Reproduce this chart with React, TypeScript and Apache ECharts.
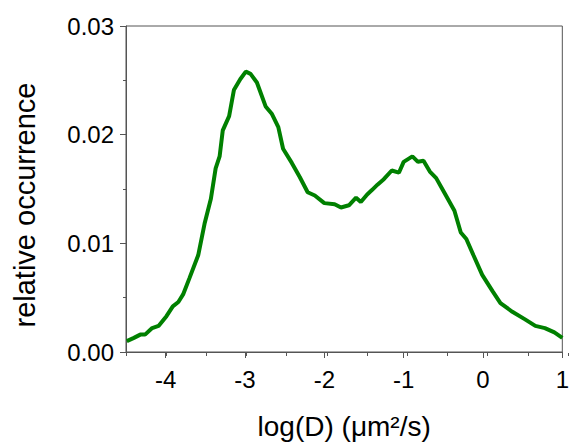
import React, { useEffect, useRef } from "react";
import * as echarts from "echarts";

const logD = [
  -4.49, -4.4, -4.32, -4.26, -4.17, -4.09, -3.99, -3.91, -3.84, -3.78, -3.7, -3.59,
  -3.51, -3.43, -3.37, -3.32, -3.28, -3.2, -3.14, -3.06, -2.99, -2.93, -2.85, -2.74,
  -2.66, -2.58, -2.52, -2.41, -2.31, -2.21, -2.12, -2.0, -1.87, -1.79, -1.69, -1.6,
  -1.54, -1.46, -1.4, -1.33, -1.25, -1.15, -1.06, -1.0, -0.89, -0.82, -0.75, -0.67,
  -0.59, -0.49, -0.36, -0.28, -0.21, -0.12, -0.01, 0.12, 0.22, 0.37, 0.53, 0.66,
  0.78, 0.9, 1.0,
];
const occurrence = [
  0.001, 0.0013, 0.0016, 0.0016, 0.0022, 0.0024, 0.0033, 0.0042, 0.0046, 0.0053, 0.0068, 0.0089,
  0.0118, 0.0141, 0.0169, 0.018, 0.0204, 0.0217, 0.0241, 0.0251, 0.0258, 0.0256, 0.0248, 0.0226,
  0.0219, 0.0207, 0.0187, 0.0174, 0.0161, 0.0147, 0.0144, 0.0137, 0.0136, 0.0133, 0.0135, 0.0142,
  0.0138, 0.0145, 0.0149, 0.0154, 0.0159, 0.0167, 0.0165, 0.0175, 0.018, 0.0175, 0.0176, 0.0166,
  0.016, 0.0147, 0.013, 0.011, 0.0104, 0.0089, 0.0071, 0.0056, 0.0045, 0.0037, 0.003, 0.0024,
  0.0022, 0.0018, 0.0013,
];
const xMajorTicks = [-4, -3, -2, -1, 0, 1];
const xTitle = "log(D) (μm²/s)";
const yTitle = "relative occurrence";

const FONT = "'Liberation Sans', Arial, sans-serif";
const AXIS = "#555";

export default function App() {
  const ref = useRef<HTMLDivElement>(null);
  useEffect(() => {
    if (!ref.current) return;
    const chart = echarts.init(ref.current, null, { renderer: "svg" });
    const gridPos = { left: 126, right: 4, top: 26, bottom: 92 };
    chart.setOption({
      animation: false,
      backgroundColor: "#fff",
      textStyle: { fontFamily: FONT },
      grid: [
        { ...gridPos, show: true, borderColor: AXIS, borderWidth: 1, backgroundColor: "transparent" },
        { ...gridPos },
      ],
      xAxis: [
        {
          type: "value",
          gridIndex: 0,
          min: -4.5,
          max: 1,
          name: xTitle,
          nameLocation: "middle",
          nameGap: 60,
          nameTextStyle: { fontSize: 28, color: "#000", fontFamily: FONT },
          axisLine: { show: true, onZero: false, lineStyle: { color: AXIS, width: 1 } },
          axisTick: { show: true, customValues: xMajorTicks, length: 6, lineStyle: { color: AXIS } },
          axisLabel: { customValues: xMajorTicks, fontSize: 24, color: "#000", margin: 15, fontFamily: FONT },
          splitLine: { show: false },
        },
        {
          type: "value",
          gridIndex: 1,
          min: -4.5,
          max: 1,
          interval: 0.5,
          axisLine: { show: false, onZero: false },
          axisTick: { show: true, length: 3, lineStyle: { color: AXIS } },
          axisLabel: { show: false },
          splitLine: { show: false },
        },
      ],
      yAxis: [
        {
          type: "value",
          gridIndex: 0,
          min: 0,
          max: 0.03,
          interval: 0.01,
          axisLine: { show: true, onZero: false, lineStyle: { color: AXIS, width: 1 } },
          axisTick: { show: true, length: 6, lineStyle: { color: AXIS } },
          minorTick: { show: true, splitNumber: 2, length: 3, lineStyle: { color: AXIS } },
          axisLabel: {
            fontSize: 24,
            color: "#000",
            margin: 12,
            fontFamily: FONT,
            formatter: (v: number) => v.toFixed(2),
          },
          splitLine: { show: false },
          minorSplitLine: { show: false },
        },
        {
          type: "value",
          gridIndex: 1,
          min: 0,
          max: 0.03,
          axisLine: { show: false, onZero: false },
          axisTick: { show: false },
          axisLabel: { show: false },
          splitLine: { show: false },
        },
      ],
      graphic: [
        {
          type: "text",
          x: 25,
          y: 205,
          rotation: Math.PI / 2,
          style: {
            text: yTitle,
            fontSize: 29,
            fontFamily: FONT,
            fill: "#000",
            align: "center",
            verticalAlign: "middle",
          },
        },
      ],
      series: [
        {
          type: "line",
          xAxisIndex: 0,
          yAxisIndex: 0,
          data: logD.map((x, i) => [x, occurrence[i]]),
          showSymbol: false,
          smooth: false,
          lineStyle: { color: "#008000", width: 4 },
          itemStyle: { color: "#008000" },
        },
      ],
    });
    return () => chart.dispose();
  }, []);
  return (
    <div
      ref={ref}
      style={{ position: "fixed", left: 0, top: 0, width: 572, height: 445 }}
    />
  );
}
